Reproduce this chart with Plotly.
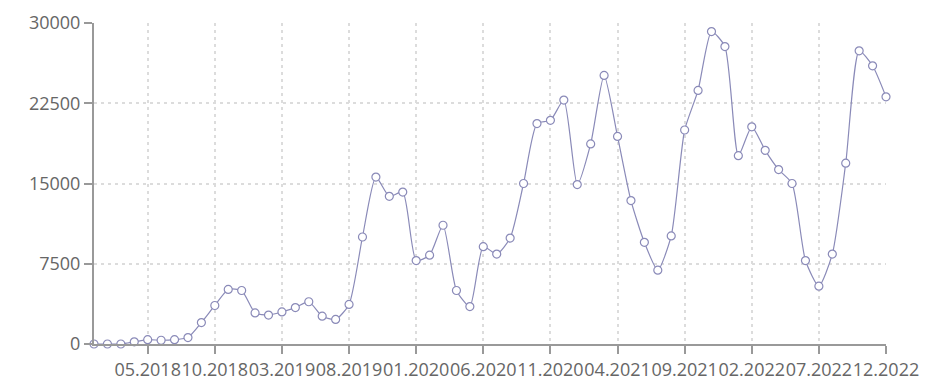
import plotly.graph_objects as go

months = [f"{m:02d}.{y}" for y in range(2018, 2023) for m in range(1, 13)]
values = [0, 0, 0, 200, 400, 350, 400, 600, 2000, 3600,
          5100, 5000, 2900, 2700, 3000, 3400, 3950, 2600, 2300, 3700,
          10000, 15600, 13800, 14200, 7800, 8300, 11100, 5000, 3500, 9100,
          8400, 9900, 15000, 20600, 20900, 22800, 14900, 18700, 25100, 19400,
          13400, 9500, 6900, 10100, 20000, 23700, 29200, 27800, 17600, 20300,
          18100, 16300, 15000, 7800, 5400, 8400, 16900, 27400, 26000, 23100]
tick_labels = ["05.2018", "10.2018", "03.2019", "08.2019", "01.2020", "06.2020",
               "11.2020", "04.2021", "09.2021", "02.2022", "07.2022", "12.2022"]
y_ticks = [0, 7500, 15000, 22500, 30000]

line_color = "#8a8ab8"

fig = go.Figure()
fig.add_trace(go.Scatter(
    x=months, y=values, mode="lines+markers",
    line=dict(color=line_color, width=1.2, shape="spline", smoothing=0.6),
    marker=dict(size=8, color="white", line=dict(color=line_color, width=1.2)),
    cliponaxis=False, showlegend=False,
))

font = dict(family="Open Sans", size=18, color="#666666")
fig.update_layout(
    width=939, height=382,
    margin=dict(l=94, r=53, t=23, b=38),
    paper_bgcolor="white", plot_bgcolor="white",
    font=font,
    xaxis=dict(
        type="category", range=[0, len(months) - 1],
        tickmode="array", tickvals=tick_labels, ticktext=tick_labels,
        showline=True, linecolor="#999999", linewidth=2,
        ticks="outside", ticklen=8, tickwidth=2, tickcolor="#999999",
        showgrid=True, gridcolor="#dcdcdc", gridwidth=2, griddash="3px,4px",
        zeroline=False, tickfont=font, tickangle=0, automargin=False,
    ),
    yaxis=dict(
        range=[0, 30000], tickmode="array", tickvals=y_ticks,
        ticktext=[str(v) for v in y_ticks],
        showline=True, linecolor="#999999", linewidth=2,
        ticks="outside", ticklen=8, tickwidth=2, tickcolor="#999999",
        showgrid=True, gridcolor="#dcdcdc", gridwidth=2, griddash="3px,4px",
        zeroline=False, tickfont=font, automargin=False,
    ),
)
fig.write_html("out.html")
